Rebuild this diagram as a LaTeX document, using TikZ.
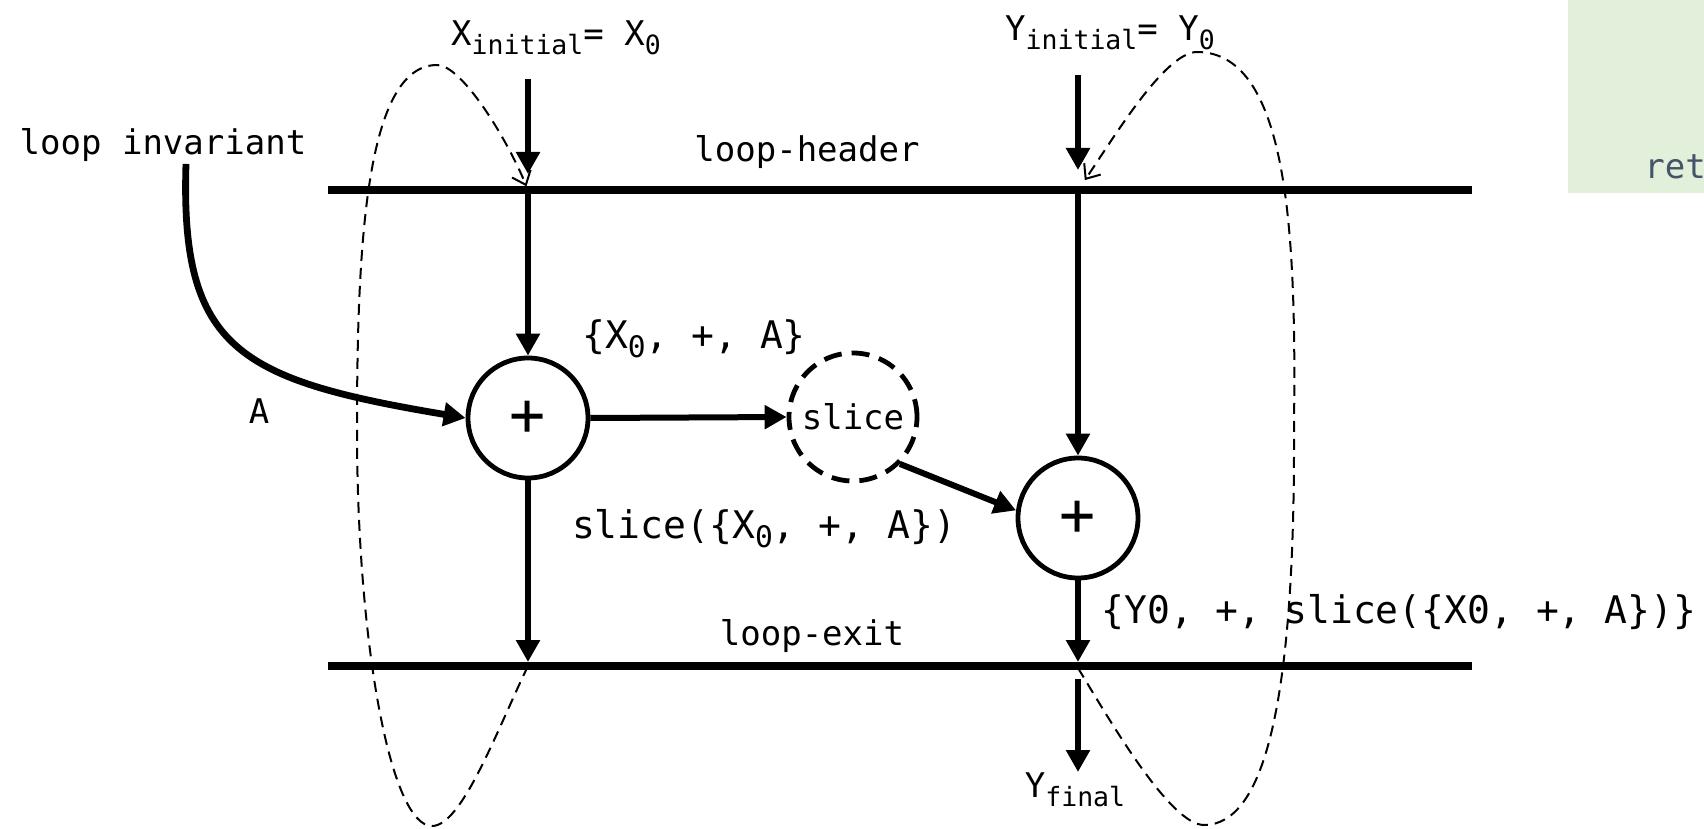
\documentclass[tikz,border=0pt]{standalone}
\usepackage{fontspec}
\setmonofont{DejaVu Sans Mono}
\usetikzlibrary{arrows.meta, positioning}

\definecolor{notegreen}{HTML}{E2EFDA}
\definecolor{noteblue}{HTML}{44546A}
\newcommand{\lowidx}[1]{\raisebox{-4.5pt}{\fontsize{0.78\dimexpr\fontdimen6\font\relax}{1em}\selectfont #1}}

\begin{document}
\begin{tikzpicture}[
    x=0.5pt, y=-0.5pt,
    font=\ttfamily\fontsize{17pt}{20pt}\selectfont,
    rail/.style={line width=4pt, line cap=butt},
    arr/.style={-{Triangle[length=11pt, width=11.5pt]}, line width=3pt},
    invarr/.style={-{Triangle[length=11pt, width=11.5pt]}, line width=3.4pt},
    opnode/.style={
        circle, draw, line width=2.4pt, minimum size=60pt, inner sep=0pt,
        font=\ttfamily\fontsize{30pt}{32pt}\selectfont
    },
    slicenode/.style={
        circle, draw, line width=2.4pt, dash pattern=on 9pt off 5pt,
        minimum size=64pt, inner sep=0pt
    },
    backedge/.style={
        -{Straight Barb[length=6pt, width=10pt]}, line width=1pt,
        dash pattern=on 5.5pt off 3.5pt
    },
    lbl/.style={inner sep=1pt},
    biglbl/.style={lbl, font=\ttfamily\fontsize{19pt}{22pt}\selectfont}
]
\useasboundingbox (0,0) rectangle (1704,829);

% Note box cut off at the right border
\fill[notegreen] (1568,0) rectangle (1704,193);
\node[lbl, anchor=base west, text=noteblue] (rettext) at (1642,178) {ret};

% Loop header and loop exit
\draw[rail] (328,190) coordinate (headl) -- (1472,190) coordinate (headr);
\draw[rail] (328,666) coordinate (exitl) -- (1472,666) coordinate (exitr);
\coordinate (xhead) at (528,190);
\coordinate (yhead) at (1078,190);
\coordinate (xexit) at (528,666);
\coordinate (yexit) at (1078,666);
\node[lbl] (headlbl) at (807,152) {loop-header};
\node[lbl] (exitlbl) at (812,636) {loop-exit};

% Initial values
\node[lbl] (xinit) at (556,38) {X\lowidx{initial}= X\lowidx{0}};
\node[lbl] (yinit) at (1110,33) {Y\lowidx{initial}= Y\lowidx{0}};
\coordinate (xin) at (528,79);
\coordinate (yin) at (1078,75);

% Operations
\node[opnode] (plus1) at (528,418) {+};
\node[slicenode] (slice) at (853,417) {slice};
\node[opnode] (plus2) at (1078,518) {+};

% Texts
\node[lbl] (loopinv) at (163,145) {loop invariant};
\node[lbl] (alabel) at (259,411) {A};
\node[biglbl] (xsum) at (694,339) {\{X\lowidx{0}, +, A\}};
\node[biglbl] (slicelbl) at (764,529) {slice(\{X\lowidx{0}, +, A\})};
\node[biglbl, anchor=west] (ysum) at (1099,612)
    {\{Y0, +, slice(\{X0, +, A\})\}};
\node[inner sep=0pt, anchor=north] (yfinal) at (1075,772) {Y\lowidx{final}};

% Data flow
\draw[arr, shorten >=8pt] (xin) -- (xhead);
\draw[arr, shorten >=10pt] (yin) -- (yhead);
\draw[arr] (xhead) -- (plus1.north);
\draw[arr] (yhead) -- (plus2.north);
\draw[invarr] (loopinv.south -| 186,0) .. controls (180,350) and (240,380)
    .. (plus1.west);
\draw[arr] (plus1.east) -- (slice.west);
\draw[arr] (slice.-45) -- (plus2.173);
\draw[arr, shorten >=2pt] (plus1.south) -- (xexit);
\draw[arr, shorten >=2pt] (plus2.south) -- (yexit);
\draw[arr, shorten <=6.5pt] (yexit) -- (yexit |- yfinal.north);

% Back edges from the exit to the header
\draw[backedge, shorten >=2pt] (xexit)
    .. controls (497,730) and (462,826) .. (432,826)
    .. controls (390,826) and (357,640) .. (357,430)
    .. controls (357,250) and (365,65) .. (437,65)
    .. controls (462,65) and (507,139) .. (xhead);
\draw[backedge, shorten >=6pt] ([yshift=-1pt]yexit)
    .. controls (1109,719) and (1170,825) .. (1204,825)
    .. controls (1265,825) and (1295,700) .. (1294,430)
    .. controls (1296,250) and (1292,52) .. (1197,52)
    .. controls (1165,52) and (1113,139) .. (yhead);

\end{tikzpicture}
\end{document}
